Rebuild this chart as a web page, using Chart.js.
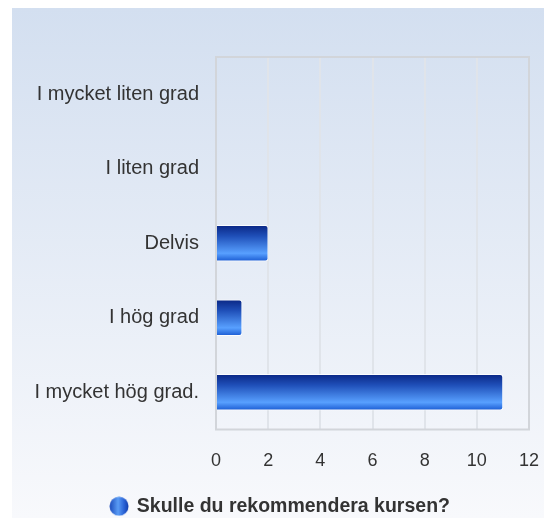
<!DOCTYPE html>
<html>
<head>
<meta charset="utf-8">
<script src="https://cdn.jsdelivr.net/npm/chart.js@4/dist/chart.umd.min.js"></script>
<style>
  html, body { margin: 0; padding: 0; background: #fff; }
  #wrap { width: 544px; height: 518px; }
</style>
</head>
<body>
<div id="wrap"><canvas id="c" width="544" height="518"></canvas></div>
<script>
  // categories (top to bottom) and answer counts
  const categories = ["I mycket liten grad", "I liten grad", "Delvis", "I hög grad", "I mycket hög grad."];
  const counts     = [0, 0, 2, 1, 11];
  const seriesName = "Skulle du rekommendera kursen?";
  const xTicks     = [0, 2, 4, 6, 8, 10, 12];

  const FONT = "'Liberation Sans', Arial, sans-serif";

  // little gradient ball for the legend
  function legendBall() {
    const cv = document.createElement("canvas");
    cv.width = 20; cv.height = 20;
    const g = cv.getContext("2d");
    const lg = g.createLinearGradient(0, 0, 20, 0);
    lg.addColorStop(0, "#1746b8");
    lg.addColorStop(0.45, "#5a9cf5");
    lg.addColorStop(0.75, "#2a63d6");
    lg.addColorStop(1, "#103aa8");
    g.fillStyle = lg;
    g.beginPath(); g.arc(10, 10, 9.5, 0, Math.PI * 2); g.fill();
    return cv;
  }

  function barFill(ctx) {
    const chart = ctx.chart;
    const y = chart.scales.y;
    if (!y || ctx.dataIndex == null) return "#2a63d6";
    const cy = y.getPixelForValue(ctx.dataIndex);
    if (!isFinite(cy)) return "#2a63d6";
    const h = 18;
    const g = chart.ctx.createLinearGradient(0, cy - h, 0, cy + h);
    g.addColorStop(0, "#0a2785");
    g.addColorStop(0.3, "#1f4fb8");
    g.addColorStop(0.78, "#58a0ff");
    g.addColorStop(1, "#1a5bd2");
    return g;
  }

  const panelBg = {
    id: "panelBg",
    beforeDraw(chart) {
      const c = chart.ctx;
      c.save();
      c.fillStyle = "#ffffff";
      c.fillRect(0, 0, chart.width, chart.height);
      const g = c.createLinearGradient(0, 8, 0, chart.height);
      g.addColorStop(0, "#d3dff0");
      g.addColorStop(1, "#f8f9fc");
      c.fillStyle = g;
      c.fillRect(12, 8, chart.width - 12, chart.height - 8);
      c.restore();
    },
    afterLayout(chart) {
      // legend sits a bit right of centre in the original
      if (chart.legend) { chart.legend.left += 10; chart.legend.right += 10; }
    },
    afterDatasetsDraw(chart) {
      const a = chart.chartArea;
      const c = chart.ctx;
      c.save();
      c.strokeStyle = "#d2d5da";
      c.lineWidth = 2;
      c.strokeRect(a.left, a.top, a.right - a.left, a.bottom - a.top);
      c.restore();
    }
  };

  new Chart(document.getElementById("c"), {
    type: "bar",
    data: {
      labels: categories,
      datasets: [{
        label: seriesName,
        data: counts,
        backgroundColor: barFill,
        borderColor: "rgba(255,255,255,0.85)",
        borderWidth: 1,
        borderRadius: 3,
        borderSkipped: "start",
        barThickness: 36
      }]
    },
    options: {
      indexAxis: "y",
      responsive: false,
      animation: false,
      layout: { padding: { left: 12, top: 57, right: 15, bottom: -8 } },
      plugins: {
        tooltip: { enabled: false },
        legend: {
          position: "bottom",
          labels: {
            usePointStyle: true,
            pointStyle: legendBall(),
            pointStyleWidth: 16,
            color: "#333333",
            font: { family: FONT, size: 19.5, weight: "bold" },
            padding: 3
          }
        }
      },
      scales: {
        x: {
          min: 0, max: 12,
          afterBuildTicks: s => { s.ticks = xTicks.map(v => ({ value: v })); },
          afterFit: s => { s.height = 64; s.paddingLeft = 0; s.paddingRight = 0; },
          grid: { color: "#e0e4ea", lineWidth: 2, drawTicks: false },
          border: { display: false },
          ticks: { color: "#333333", font: { family: FONT, size: 18 }, padding: 21 }
        },
        y: {
          afterFit: s => { s.width = 204; },
          grid: { display: false, drawTicks: false },
          border: { display: false },
          ticks: { color: "#333333", font: { family: FONT, size: 20 }, padding: 17 }
        }
      }
    },
    plugins: [panelBg]
  });
</script>
</body>
</html>
